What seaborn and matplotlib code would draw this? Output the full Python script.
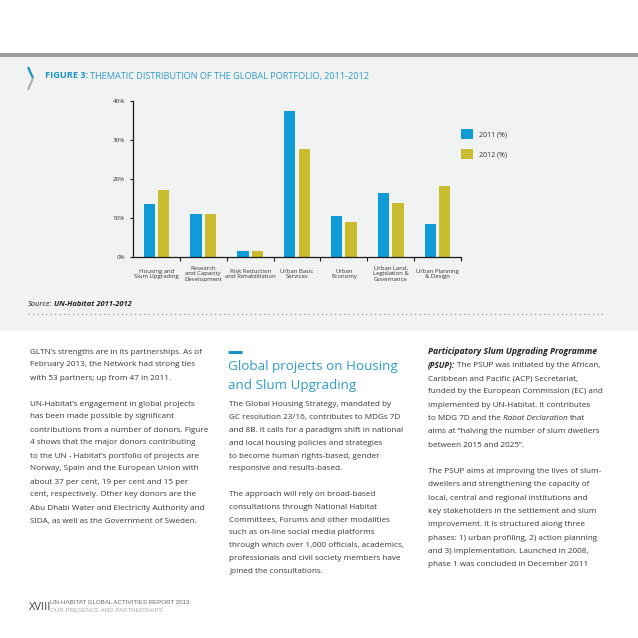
import matplotlib
matplotlib.use("Agg")
import numpy as np
import pandas as pd
import matplotlib.pyplot as plt
import seaborn as sns
from matplotlib.patches import Rectangle
from matplotlib.lines import Line2D

# chart data
categories = [
    "Housing and\nSlum Upgrading",
    "Research\nand Capacity\nDevelopment",
    "Risk Reduction\nand Rehabilitation",
    "Urban Basic\nServices",
    "Urban\nEconomy",
    "Urban Land,\nLegislation &\nGovernance",
    "Urban Planning\n& Design",
]
values_2011 = [13.5, 11.0, 1.5, 37.5, 10.5, 16.5, 8.5]
values_2012 = [17.1, 11.1, 1.6, 27.8, 9.0, 13.9, 18.2]
series_labels = ["2011 (%)", "2012 (%)"]
y_ticks = [0, 10, 20, 30, 40]
y_tick_labels = ["0%", "10%", "20%", "30%", "40%"]

# page text
left_column = [
    "GLTN\u2019s strengths are in its partnerships. As of",
    "February 2013, the Network had strong ties",
    "with 53 partners; up from 47 in 2011.",
    "",
    "UN-Habitat\u2019s engagement in global projects",
    "has been made possible by significant",
    "contributions from a number of donors. Figure",
    "4 shows that the major donors contributing",
    "to the UN - Habitat\u2019s portfolio of projects are",
    "Norway, Spain and the European Union with",
    "about 37 per cent, 19 per cent and 15 per",
    "cent, respectively. Other key donors are the",
    "Abu Dhabi Water and Electricity Authority and",
    "SIDA, as well as the Government of Sweden.",
]
middle_heading = ["Global projects on Housing", "and Slum Upgrading"]
middle_column = [
    "The Global Housing Strategy, mandated by",
    "GC resolution 23/16, contributes to MDGs 7D",
    "and 8B. It calls for a paradigm shift in national",
    "and local housing policies and strategies",
    "to become human rights-based, gender",
    "responsive and results-based.",
    "",
    "The approach will rely on broad-based",
    "consultations through National Habitat",
    "Committees, Forums and other modalities",
    "such as on-line social media platforms",
    "through which over 1,000 officials, academics,",
    "professionals and civil society members have",
    "joined the consultations.",
]
right_column = [
    [("Participatory Slum Upgrading Programme", "bi")],
    [("(PSUP):", "bi"), ("The PSUP was initiated by the African,", "r")],
    [("Caribbean and Pacific (ACP) Secretariat,", "r")],
    [("funded by the European Commission (EC) and", "r")],
    [("implemented by UN-Habitat. It contributes", "r")],
    [("to MDG 7D and the", "r"), ("Rabat Declaration", "i"), ("that", "r")],
    [("aims at \u201chalving the number of slum dwellers", "r")],
    [("between 2015 and 2025\u201d.", "r")],
    [],
    [("The PSUP aims at improving the lives of slum-", "r")],
    [("dwellers and strengthening the capacity of", "r")],
    [("local, central and regional institutions and", "r")],
    [("key stakeholders in the settlement and slum", "r")],
    [("improvement. It is structured along three", "r")],
    [("phases: 1) urban profiling, 2) action planning", "r")],
    [("and 3) implementation. Launched in 2008,", "r")],
    [("phase 1 was concluded in December 2011", "r")],
]

BLUE = "#0f9ad8"
YELLOW = "#c9bd2f"
TITLE_BLUE = "#2f9dcb"
PANEL = "#f1f2f2"
TEXT = "#363636"
W = H = 638
BODY_SIZE = 5.9

sns.set_theme(style="white")
plt.rcParams["font.family"] = ["Open Sans", "DejaVu Sans"]

STYLES = {
    "r": dict(fontstyle="normal", fontweight="normal"),
    "b": dict(fontstyle="normal", fontweight="bold"),
    "i": dict(fontstyle="italic", fontweight="normal"),
    "bi": dict(fontstyle="italic", fontweight="bold"),
}


def fx(x):
    return x / W


def fy(y):
    return 1 - y / H


fig = plt.figure(figsize=(6.38, 6.38), dpi=100, facecolor="white")
renderer = fig.canvas.get_renderer()

# grey panel behind the figure block and the rule above it
fig.add_artist(Rectangle((0, fy(331)), 1, fy(57) - fy(331), transform=fig.transFigure,
                         facecolor=PANEL, edgecolor="none", zorder=-10))
fig.add_artist(Rectangle((0, fy(57)), 1, fy(53) - fy(57), transform=fig.transFigure,
                         facecolor="#9c9c9c", edgecolor="none", zorder=-9))

ax = fig.add_axes([fx(133), fy(257), (461 - 133) / W, (257 - 101) / H])
ax.set_facecolor("none")

bars = pd.DataFrame({
    "category": categories * 2,
    "series": [series_labels[0]] * len(categories) + [series_labels[1]] * len(categories),
    "value": values_2011 + values_2012,
})
sns.barplot(data=bars, x="category", y="value", hue="series", order=categories,
            hue_order=series_labels, palette=[BLUE, YELLOW], saturation=1,
            width=0.612, gap=0.216, errorbar=None, linewidth=0, edgecolor="none", ax=ax)

ax.set_xlim(-0.5, len(categories) - 0.5)
ax.set_ylim(y_ticks[0], y_ticks[-1])
ax.set_xlabel("")
ax.set_ylabel("")
ax.set_yticks(y_ticks, y_tick_labels)
ax.set_xticks(np.arange(len(categories)), categories, va="center", linespacing=1.1)
ax.set_xticks(np.arange(len(categories)) + 0.5, minor=True)
ax.tick_params(axis="x", which="major", bottom=True, length=0, pad=12.2,
               labelsize=4.3, labelcolor="#333333")
ax.tick_params(axis="x", which="minor", bottom=True, length=2.9, width=0.8,
               color="#1a1a1a", direction="out")
ax.tick_params(axis="y", which="major", left=True, length=2.5, width=0.8, color="#1a1a1a",
               pad=3.3, labelsize=4.5, labelcolor="#333333", direction="out")
sns.despine(ax=ax)
for side in ("left", "bottom"):
    ax.spines[side].set_color("#1a1a1a")
    ax.spines[side].set_linewidth(0.9)

sns.move_legend(ax, "upper left", bbox_to_anchor=(fx(461), fy(129)),
                bbox_transform=fig.transFigure, title=None, frameon=False, fontsize=5,
                handlelength=1.73, handleheight=1.73, labelspacing=1.58,
                handletextpad=0.86, borderpad=0, borderaxespad=0)
for t in ax.get_legend().get_texts():
    t.set_color("#333333")


def space_width(size, style):
    a = fig.text(0, 0, "x x", fontsize=size, **style)
    b = fig.text(0, 0, "xx", fontsize=size, **style)
    w = a.get_window_extent(renderer).width - b.get_window_extent(renderer).width
    a.remove()
    b.remove()
    return w


def put_runs(x, y, runs, size, color):
    for i, (s, key) in enumerate(runs):
        style = STYLES[key]
        if i > 0:
            x += space_width(size, style)
        col = color[i] if isinstance(color, list) else color
        t = fig.text(fx(x), fy(y), s, fontsize=size, color=col, va="center", ha="left", **style)
        x += t.get_window_extent(renderer).width


# figure title with chevron mark
fig.add_artist(Line2D([fx(28), fx(33)], [fy(67), fy(78)], transform=fig.transFigure,
                      color="#1a93c8", lw=1.6, solid_capstyle="butt"))
fig.add_artist(Line2D([fx(33), fx(28)], [fy(78), fy(90)], transform=fig.transFigure,
                      color="#b0b0b0", lw=1.6, solid_capstyle="butt"))
put_runs(45, 76, [("FIGURE 3:", "b"),
                  ("THEMATIC DISTRIBUTION OF THE GLOBAL PORTFOLIO, 2011-2012", "r")],
         6.55, ["#1a93c8", TITLE_BLUE])

# source line and dotted rule
put_runs(28, 304, [("Source:", "i"), ("UN-Habitat 2011-2012", "bi")], 5.4, "#222222")
fig.add_artist(Line2D([fx(28), fx(606)], [fy(314), fy(314)], transform=fig.transFigure,
                      color="#8c8c8c", lw=0.8, linestyle=(0, (1, 3))))

# body columns
for i, line in enumerate(left_column):
    if line:
        fig.text(fx(30), fy(352 + i * 13.0), line, fontsize=BODY_SIZE, color=TEXT, va="center")

fig.add_artist(Line2D([fx(228), fx(242)], [fy(352), fy(352)], transform=fig.transFigure,
                      color="#1a93c8", lw=2.2, solid_capstyle="butt"))
for i, line in enumerate(middle_heading):
    fig.text(fx(228), fy(367 + i * 18), line, fontsize=9.7, color=TITLE_BLUE, va="center")
for i, line in enumerate(middle_column):
    if line:
        fig.text(fx(229), fy(405 + i * 12.8), line, fontsize=BODY_SIZE, color=TEXT, va="center")

for i, runs in enumerate(right_column):
    if runs:
        colors = ["#222222" if k == "bi" else TEXT for _, k in runs]
        size = 6.2 if i == 0 else BODY_SIZE
        put_runs(428, 352 + i * 13.3, runs, size, colors)

# footer
fig.text(fx(29), fy(608), "XVIII", fontsize=8, color="#444444", va="center")
fig.text(fx(50), fy(602), "UN-HABITAT GLOBAL ACTIVITIES REPORT 2013:", fontsize=4.4,
         color="#666666", va="center", family=["Liberation Sans", "DejaVu Sans"])
fig.text(fx(50), fy(610), "OUR PRESENCE AND PARTNERSHIPS", fontsize=4.4,
         color="#aaaaaa", va="center", family=["Liberation Sans", "DejaVu Sans"])

fig.savefig("out.png", dpi=100, facecolor="white")
